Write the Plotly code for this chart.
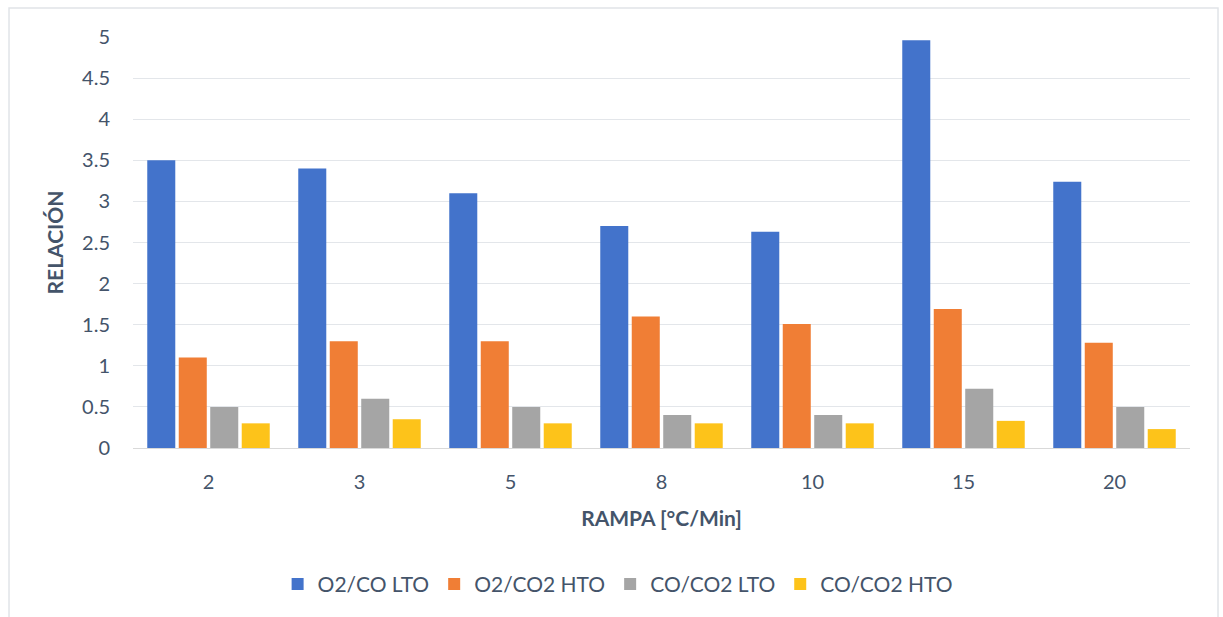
import plotly.graph_objects as go

categories = ["2", "3", "5", "8", "10", "15", "20"]
o2_co_lto = [3.50, 3.40, 3.10, 2.70, 2.63, 4.96, 3.24]
o2_co2_hto = [1.10, 1.30, 1.30, 1.60, 1.51, 1.69, 1.28]
co_co2_lto = [0.50, 0.60, 0.50, 0.40, 0.40, 0.72, 0.50]
co_co2_hto = [0.30, 0.35, 0.30, 0.30, 0.30, 0.33, 0.23]

series = [
    ("O2/CO LTO", o2_co_lto, "#4373CB"),
    ("O2/CO2 HTO", o2_co2_hto, "#F07E35"),
    ("CO/CO2 LTO", co_co2_lto, "#A5A5A5"),
    ("CO/CO2 HTO", co_co2_hto, "#FDC31A"),
]

text_color = "#44546A"
font_family = "Lato, 'Open Sans', sans-serif"

fig = go.Figure()
for name, vals, col in series:
    fig.add_trace(go.Bar(x=categories, y=vals, name=name,
                         marker=dict(color=col, line=dict(width=0))))

fig.update_layout(
    width=1223, height=617,
    barmode="group", bargap=0.166, bargroupgap=0.11,
    plot_bgcolor="white", paper_bgcolor="white",
    margin=dict(l=133, r=33, t=37, b=169),
    font=dict(family=font_family, size=20, color=text_color),
    showlegend=True,
    legend=dict(orientation="h", xref="container", yref="container",
                x=0.505, xanchor="center", y=0.053, yanchor="middle",
                font=dict(size=21, color=text_color), itemwidth=30,
                traceorder="normal"),
    xaxis=dict(type="category", showline=True, linecolor="#D9D9D9", linewidth=1,
               automargin=False,
               ticks="", tickfont=dict(size=20, color=text_color),
               ticklabelstandoff=16,
               title=dict(text="<b>RAMPA [°C/Min]</b>", standoff=19,
                          font=dict(size=21, color=text_color))),
    yaxis=dict(range=[0, 5], dtick=0.5, showgrid=True, gridcolor="#E3E6EA", gridwidth=1,
               automargin=False,
               zeroline=False, ticks="", tickfont=dict(size=20, color=text_color),
               ticklabelstandoff=22,
               title=dict(text="<b>RELACIÓN</b>", standoff=12,
                          font=dict(size=21, color=text_color))),
    shapes=[dict(type="rect", xref="paper", yref="paper",
                 x0=-0.1173, x1=1.0265, y0=-0.43, y1=1.0706,
                 line=dict(color="#E1E4E8", width=1.5), layer="below")],
)

fig.write_html("out.html")
